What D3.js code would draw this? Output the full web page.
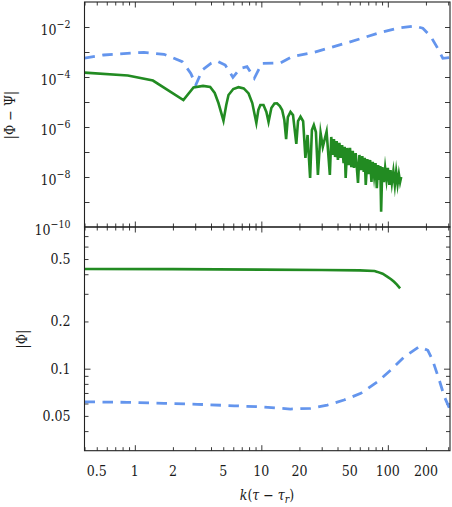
<!DOCTYPE html>
<html>
<head>
<meta charset="utf-8">
<script src="https://cdn.jsdelivr.net/npm/d3@7"></script>
<style>
  body { margin: 0; background: #fff; }
  text { font-family: "DejaVu Serif Condensed", "DejaVu Serif", serif; font-stretch: condensed; }
</style>
</head>
<body>
<div id="chart"></div>
<script>
//---------------------------------- Data --------------------
// top panel |Phi - Psi|, green solid
var diffK = [0.4, 0.88, 1.39, 2.42, 2.91, 3.46, 3.94, 4.28, 4.58, 5.02, 5.28, 5.5, 6.0, 6.6, 7.26,
  7.93, 8.48, 9.13, 9.47, 9.82, 10.4, 10.96, 11.4, 12.0, 12.7, 13.3, 14.0, 14.6, 15.2, 15.7,
  16.2, 17.0, 17.8, 18.9, 19.5, 20.4, 21.4, 22.3, 23.2, 24.3, 25.1, 26.0, 27.0, 28.0, 29.4,
  30.6, 32.8, 34.8,
  35.7, 36.6, 37.5, 38.3, 39.4, 40.3, 41.4, 42.4, 43.5, 44.7, 45.6, 46.4, 47.7, 49.0, 50.2,
  51.5, 52.8, 54.0, 55.7, 58.1, 59.6, 61.1, 62.8, 64.5, 65.7, 66.9, 68.8, 70.7, 72.4, 74.2,
  76.0, 77.9, 79.9, 81.8, 83.8, 85.9, 87.2, 88.5, 90.4, 93.0, 95.2, 97.6, 100, 102.8, 105.0,
  107.6, 110.6, 113.6, 116.4, 119.4, 122.3, 125.0, 127.5];
var diffVal = [1.49e-4, 1.15e-4, 7.2e-5, 1.2e-5, 3.8e-5, 4.4e-5, 4.0e-5, 2.3e-5, 9.1e-6, 1.8e-6,
  7.6e-6, 1.9e-5, 3.3e-5, 3.9e-5, 3.5e-5, 2.2e-5, 9.1e-6, 1.45e-6, 4.8e-6, 7.6e-6,
  7.6e-6, 4.0e-6, 1.6e-6, 5.8e-6, 8.7e-6, 8.9e-6, 6.9e-6, 4.8e-6, 1.9e-6, 3.3e-7,
  2.5e-6, 4.0e-6, 3.0e-6, 2.1e-7, 1.7e-6, 2.6e-6, 1.7e-6, 5.8e-8, 4.8e-7, 9.1e-9,
  7.6e-7, 1.2e-6, 6.3e-7, 1.2e-8, 5.8e-7, 1.6e-7, 6.5e-7, 1.2e-8,
  4.0e-7, 7.6e-8, 3.3e-7, 6.3e-8, 2.75e-7, 4.8e-8, 2.3e-7, 5.8e-8, 1.9e-7, 3.6e-8,
  1.6e-7, 9.1e-9, 1.45e-7, 3.0e-8, 1.45e-7, 2.5e-8, 1.1e-7, 2.3e-8, 9.1e-8, 5.8e-9,
  7.6e-8, 1.9e-8, 6.9e-8, 1.6e-8, 5.8e-8, 4.8e-9, 5.2e-8, 1.3e-8, 4.8e-8, 6.3e-9,
  4.0e-8, 1.1e-8, 3.6e-8, 3.6e-9, 3.0e-8, 7.6e-9, 2.75e-8, 4.1e-10, 2.5e-8, 6.3e-9,
  2.3e-8, 7.6e-9, 2.3e-8, 4.8e-9, 1.9e-8, 5.8e-9, 1.7e-8, 4.8e-9, 1.6e-8, 5.2e-9,
  1.3e-8, 6.3e-9, 1.0e-8];
// top panel, blue dashed
var diffK2 = [0.4, 0.567, 1.18, 1.7, 2.37, 2.77, 3.03, 3.42, 3.99, 4.45, 5.18, 5.96, 6.81, 7.7, 8.8,
  10.1, 14.2, 17.5, 26.0, 47.9, 88.0, 119, 162, 189, 219, 248, 272, 305];
var diffVal2 = [5.75e-4, 7.6e-4, 9.7e-4, 8.1e-4, 4.1e-4, 1.4e-4, 4.8e-5, 1.9e-4, 3.5e-4, 4.4e-4, 3.0e-4,
  9.7e-5, 2.2e-4, 2.6e-4, 8.9e-5, 3.5e-4, 3.7e-4, 6.5e-4, 9.7e-4, 2.35e-3, 6.1e-3, 8.9e-3, 1.1e-2,
  8.9e-3, 4.1e-3, 1.4e-3, 5.6e-4, 6.0e-4];
// bottom panel |Phi|
var phiK = [0.4, 2, 10, 30, 60, 78.5, 82.8, 91, 99.5, 106, 112, 118, 125];
var phiVal = [0.432, 0.431, 0.428, 0.426, 0.423, 0.419, 0.414, 0.403, 0.385, 0.372, 0.358, 0.343, 0.325];
var phiK2 = [0.4, 0.87, 1.7, 3.12, 6.11, 9.35, 17.0, 24.5, 33.2, 45.0, 61.1, 82.8, 105.6, 134.7, 177,
  207, 226, 255, 280, 307];
var phiVal2 = [0.0615, 0.061, 0.0601, 0.0593, 0.058, 0.0572, 0.0553, 0.0559, 0.0586, 0.0631, 0.0696,
  0.0825, 0.098, 0.119, 0.138, 0.131, 0.113, 0.0846, 0.0662, 0.0559];

var xTickLabels = [0.5, 1, 2, 5, 10, 20, 50, 100, 200];
var topTickLabels = [-2, -4, -6, -8, -10];
var botTickLabels = [0.05, 0.1, 0.2, 0.5];

//---------------------------------- Layout --------------------
var width = 452, height = 507;
var left = 84.5, right = 450;
var topY0 = 2, midY = 227, botY1 = 450.7;
var green = "#228b22", blue = "#6495ed";
var fs = "14px", fsSmall = "10.5px";

var svg = d3.select("#chart").append("svg")
    .attr("width", width).attr("height", height);

var x = d3.scaleLog().domain([0.4, 310]).range([left, right]);
var yTop = d3.scaleLog().domain([1e-10, 1e-1]).range([midY, topY0]);
var yBot = d3.scaleLog().domain([0.03, 0.8]).range([botY1, midY]);

// clip paths
var defs = svg.append("defs");
defs.append("clipPath").attr("id", "clipTop").append("rect")
    .attr("x", left).attr("y", topY0).attr("width", right - left).attr("height", midY - topY0);
defs.append("clipPath").attr("id", "clipBot").append("rect")
    .attr("x", left).attr("y", midY).attr("width", right - left).attr("height", botY1 - midY);

//---------------------------------- Ticks --------------------
var xMajor = [1, 10, 100];
var xMinor = [];
[0.1, 1, 10, 100].forEach(function(d) {
  for (var i = 2; i <= 9; i++) { var v = d * i; if (v >= 0.4 && v <= 310) xMinor.push(v); }
});

function xTicks(y, dir) {
  // dir = -1 ticks go up, +1 ticks go down
  var g = svg.append("g").attr("transform", "translate(0," + y + ")");
  g.call(d3.axisBottom(x).tickValues(xMinor).tickSize(dir * 3.5).tickFormat(""));
  var g2 = svg.append("g").attr("transform", "translate(0," + y + ")");
  g2.call(d3.axisBottom(x).tickValues(xMajor).tickSize(dir * 5.5).tickFormat(""));
  [g, g2].forEach(function(s) {
    s.select(".domain").remove();
    s.selectAll("line").attr("stroke", "#222").attr("stroke-width", 0.9);
  });
}
xTicks(topY0, 1);
xTicks(midY, -1);
xTicks(midY, 1);
xTicks(botY1, -1);

function yTicks(scale, vals, len) {
  var gl = svg.append("g").attr("transform", "translate(" + left + ",0)")
      .call(d3.axisLeft(scale).tickValues(vals).tickSize(-len).tickFormat(""));
  var gr = svg.append("g").attr("transform", "translate(" + right + ",0)")
      .call(d3.axisRight(scale).tickValues(vals).tickSize(-len).tickFormat(""));
  [gl, gr].forEach(function(s) {
    s.select(".domain").remove();
    s.selectAll("line").attr("stroke", "#222").attr("stroke-width", 0.9);
  });
}
yTicks(yTop, d3.range(-9, -1).map(function(e) { return Math.pow(10, e); }), 5);
yTicks(yBot, [0.04, 0.05, 0.06, 0.07, 0.08, 0.09, 0.2, 0.3, 0.4, 0.5, 0.6, 0.7], 4);
yTicks(yBot, [0.1], 6);

//---------------------------------- Tick labels --------------------
svg.append("g").selectAll("text").data(xTickLabels).enter().append("text")
    .attr("x", function(d) { return x(d); })
    .attr("y", 476)
    .attr("text-anchor", "middle")
    .style("font-size", fs)
    .attr("fill", "#1a1a1a")
    .text(function(d) { return d; });

var tl = svg.append("g").selectAll("text").data(topTickLabels).enter().append("text")
    .attr("x", 70.5)
    .attr("y", function(d) { return yTop(Math.pow(10, d)) + 8; })
    .attr("text-anchor", "end")
    .style("font-size", fs)
    .attr("fill", "#1a1a1a");
tl.append("tspan").text("10");
tl.append("tspan").attr("dy", -7.5).style("font-size", fsSmall)
    .text(function(d) { return "\u2212" + Math.abs(d); });

svg.append("g").selectAll("text").data(botTickLabels).enter().append("text")
    .attr("x", 70.5)
    .attr("y", function(d) { return yBot(d) + 5; })
    .attr("text-anchor", "end")
    .style("font-size", fs)
    .attr("fill", "#1a1a1a")
    .text(function(d) { return d; });

//---------------------------------- Axis labels --------------------
svg.append("text")
    .attr("transform", "translate(15,115) rotate(-90)")
    .attr("text-anchor", "middle")
    .style("font-size", fs)
    .attr("fill", "#1a1a1a")
    .text("|\u03a6 \u2212 \u03a8|");

svg.append("text")
    .attr("transform", "translate(27,339) rotate(-90)")
    .attr("text-anchor", "middle")
    .style("font-size", fs)
    .attr("fill", "#1a1a1a")
    .text("|\u03a6|");

var xl = svg.append("text")
    .attr("x", 267).attr("y", 500)
    .attr("text-anchor", "middle")
    .style("font-size", fs)
    .attr("fill", "#1a1a1a");
xl.append("tspan").style("font-style", "italic").text("k");
xl.append("tspan").text("(");
xl.append("tspan").style("font-style", "italic").text("\u03c4");
xl.append("tspan").text(" \u2212 ");
xl.append("tspan").style("font-style", "italic").text("\u03c4");
xl.append("tspan").style("font-style", "italic").style("font-size", fsSmall).attr("dy", 3).text("r");
xl.append("tspan").attr("dy", -3).text(")");

//---------------------------------- Lines --------------------
function drawLine(ks, vs, y, clip, color, dashed, w) {
  var line = d3.line()
      .x(function(d, i) { return x(ks[i]); })
      .y(function(d) { return y(d); });
  svg.append("path")
      .datum(vs)
      .attr("clip-path", "url(#" + clip + ")")
      .attr("d", line)
      .attr("fill", "none")
      .attr("stroke", color)
      .attr("stroke-width", w)
      .attr("stroke-dasharray", dashed ? "10.5,7.5" : null)
      .attr("stroke-linejoin", "miter")
      .attr("stroke-miterlimit", 10);
}
drawLine(diffK2, diffVal2, yTop, "clipTop", blue, true, 2.8);
drawLine(diffK, diffVal, yTop, "clipTop", green, false, 2.6);
drawLine(phiK, phiVal, yBot, "clipBot", green, false, 2.6);
drawLine(phiK2, phiVal2, yBot, "clipBot", blue, true, 2.8);

//---------------------------------- Frames --------------------
svg.append("rect").attr("x", left).attr("y", topY0).attr("width", right - left).attr("height", midY - topY0)
    .attr("fill", "none").attr("stroke", "#222").attr("stroke-width", 1.1);
svg.append("rect").attr("x", left).attr("y", midY).attr("width", right - left).attr("height", botY1 - midY)
    .attr("fill", "none").attr("stroke", "#222").attr("stroke-width", 1.1);
</script>
</body>
</html>
